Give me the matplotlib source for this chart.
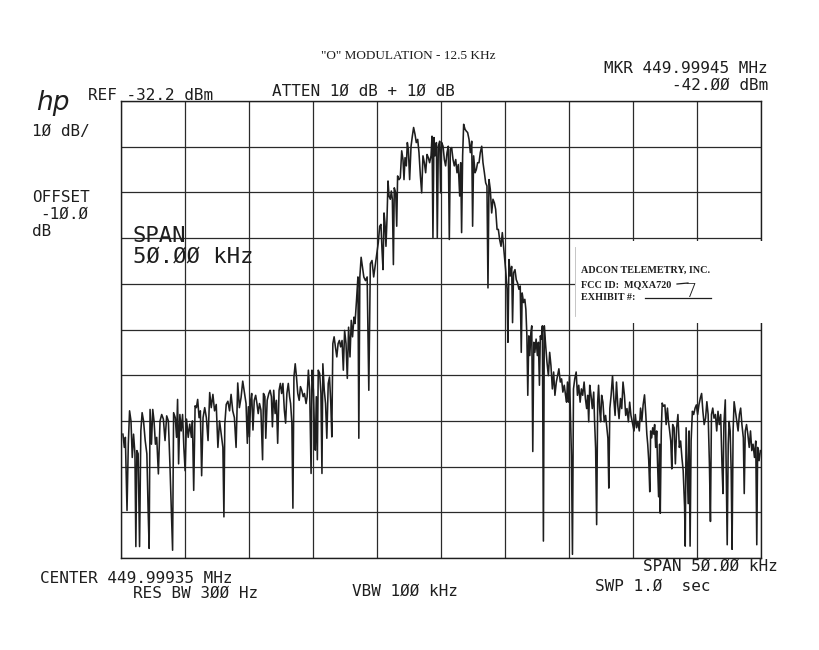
import numpy as np
import matplotlib
matplotlib.use("Agg")
import matplotlib.pyplot as plt
from matplotlib.patches import Rectangle
from matplotlib.lines import Line2D

# ---------------- data (frequency offset from centre in kHz, level in dBm) -------------
noise_left_khz = [-24.85,-24.74,-24.66,-24.53,-24.43,-24.33,-24.22,-24.12,-24.02,-23.91,
    -23.84,-23.76,-23.66,-23.55,-23.45,-23.35,-23.24,-23.11,-22.98,-22.88,
    -22.80,-22.73,-22.62,-22.52,-22.42,-22.31,-22.21,-22.08,-21.95,-21.82,
    -21.69,-21.56,-21.43,-21.30,-21.18,-21.10,-20.97,-20.89,-20.76,-20.66,
    -20.58,-20.50,-20.40,-20.30,-20.19,-20.09,-19.99,-19.88,-19.75,-19.63,
    -19.50,-19.42,-19.32,-19.21,-19.11,-19.01,-18.90,-18.80,-18.70,-18.59,
    -18.46,-18.33,-18.20,-18.07,-17.95,-17.82,-17.69,-17.56,-17.43,-17.30,
    -17.17,-17.04,-16.96,-16.89,-16.78,-16.65,-16.52,-16.40,-16.27,-16.14,
    -16.01,-15.88,-15.75,-15.62,-15.49]
noise_left_dbm = [-105.1,-108.0,-105.8,-121.8,-107.3,-100.0,-102.2,-110.2,-105.1,-109.4,
    -129.7,-108.7,-109.4,-129.7,-104.4,-100.4,-102.2,-106.5,-109.4,-121.8,
    -130.1,-99.7,-107.3,-99.7,-102.2,-107.3,-105.8,-113.8,-102.2,-100.8,
    -101.8,-106.5,-101.1,-102.2,-111.6,-118.9,-130.5,-100.4,-101.5,-105.8,
    -97.5,-111.6,-100.8,-104.4,-100.8,-108.0,-113.1,-101.8,-105.8,-102.9,
    -105.8,-102.2,-117.4,-98.9,-99.3,-97.5,-101.5,-100.0,-114.2,-101.5,
    -99.3,-101.5,-106.5,-96.0,-99.3,-96.4,-100.0,-98.6,-108.0,-102.2,
    -105.1,-108.0,-123.2,-102.9,-98.6,-97.9,-100.0,-96.4,-100.0,-101.5,
    -108.0,-93.9,-99.3,-97.1,-93.5]

skirt_left_khz = [-15.23,-15.13,-15.05,-14.97,-14.87,-14.79,-14.69,-14.59,-14.48,-14.38,
    -14.28,-14.18,-14.07,-13.94,-13.87,-13.76,-13.69,-13.58,-13.45,-13.35,
    -13.25,-13.17,-13.07,-12.96,-12.86,-12.76,-12.65,-12.55,-12.45,-12.35,
    -12.24,-12.14,-12.04,-11.93,-11.83,-11.75,-11.65,-11.57,-11.49,-11.39,
    -11.29,-11.19,-11.08,-10.98,-10.88,-10.77,-10.67,-10.54,-10.46,-10.36,
    -10.26,-10.15,-10.08,-9.97,-9.90,-9.82,-9.74,-9.66,-9.59,-9.48,
    -9.38,-9.30,-9.23,-9.12,-9.02,-8.92,-8.81,-8.71,-8.61,-8.53,
    -8.45,-8.35,-8.25,-8.14,-8.04,-7.94,-7.84,-7.73,-7.63,-7.53,
    -7.42,-7.32,-7.22,-7.11,-7.01,-6.91,-6.80,-6.72,-6.60,-6.49,
    -6.42,-6.34,-6.24,-6.03,-5.90,-5.77,-5.64,-5.52,-5.39,-5.26]
skirt_left_dbm = [-98.4,-107.1,-99.1,-105.7,-97.7,-96.2,-104.2,-97.7,-96.6,-98.4,
    -100.6,-98.4,-99.8,-110.7,-96.2,-96.9,-106.0,-97.7,-96.2,-95.5,
    -96.9,-103.5,-95.5,-100.6,-97.7,-107.1,-95.5,-94.0,-96.2,-94.0,
    -99.8,-102.7,-96.2,-94.0,-96.9,-98.4,-102.7,-121.3,-92.6,-89.7,
    -92.6,-96.2,-97.7,-94.7,-95.5,-96.9,-96.2,-98.4,-96.9,-91.1,
    -95.5,-113.7,-91.1,-95.5,-102.7,-108.6,-96.9,-110.7,-91.1,-91.8,
    -96.2,-113.7,-89.7,-95.5,-98.4,-106.0,-94.0,-92.6,-98.4,-105.7,
    -85.3,-83.8,-86.0,-88.2,-85.3,-84.6,-86.0,-84.6,-91.1,-82.4,
    -85.3,-92.9,-81.7,-88.2,-80.2,-83.8,-79.5,-80.9,-75.8,-70.7,
    -106.0,-70.7,-66.4,-70.7,-71.5,-70.7,-95.5,-67.8,-67.1,-70.7]

main_lobe_khz = [-4.90,-4.79,-4.69,-4.61,-4.53,-4.45,-4.38,-4.30,-4.22,-4.14,
    -4.06,-3.96,-3.88,-3.80,-3.72,-3.65,-3.54,-3.46,-3.39,-3.28,
    -3.18,-3.07,-2.97,-2.89,-2.81,-2.71,-2.63,-2.55,-2.45,-2.34,
    -2.24,-2.14,-2.03,-1.93,-1.82,-1.72,-1.61,-1.51,-1.41,-1.30,
    -1.20,-1.09,-0.99,-0.89,-0.78,-0.70,-0.63,-0.55,-0.47,-0.36,
    -0.29,-0.21,-0.10,-0.03,0.05,0.16,0.26,0.36,0.47,0.57,
    0.65,0.73,0.83,0.94,1.04,1.15,1.25,1.35,1.46,1.54,
    1.61,1.69,1.77,1.88,1.98,2.08,2.19,2.29,2.40,2.47,
    2.55,2.66,2.76,2.86,2.97,3.07,3.18,3.28,3.39,3.49,
    3.59,3.67,3.75,3.85,3.96,4.06,4.17,4.27,4.38,4.48,
    4.58,4.69,4.79]
main_lobe_dbm = [-63.2,-59.6,-59.2,-64.7,-69.1,-56.7,-58.8,-64.0,-58.1,-49.7,
    -53.0,-53.7,-51.9,-53.7,-68.0,-51.2,-52.3,-59.6,-48.6,-49.4,
    -49.0,-43.1,-45.0,-49.4,-44.6,-46.4,-41.3,-42.8,-49.4,-42.1,
    -39.9,-38.0,-39.5,-41.3,-40.6,-43.5,-48.6,-52.3,-44.2,-45.7,
    -47.9,-43.9,-44.6,-45.7,-44.2,-39.9,-62.1,-40.2,-44.2,-41.3,
    -62.1,-42.1,-41.0,-52.3,-41.3,-42.1,-45.0,-46.4,-43.5,-42.1,
    -62.5,-42.8,-42.4,-45.0,-46.4,-45.0,-47.9,-46.1,-53.0,-45.7,
    -61.0,-44.2,-37.3,-38.4,-38.8,-39.1,-40.6,-43.5,-41.0,-59.6,
    -44.2,-47.9,-47.2,-45.7,-45.7,-43.5,-42.1,-45.7,-47.9,-50.1,
    -50.8,-73.1,-49.4,-51.5,-56.7,-53.7,-54.5,-55.9,-60.3,-60.3,
    -62.5,-64.0,-61.0]

skirt_right_khz = [5.05,5.16,5.23,5.31,5.41,5.52,5.59,5.67,5.78,5.88,
    5.98,6.09,6.19,6.27,6.34,6.45,6.55,6.63,6.71,6.78,
    6.86,6.94,7.02,7.09,7.17,7.25,7.33,7.43,7.53,7.61,
    7.69,7.76,7.84,7.92,8.00,8.07,8.18,8.28,8.39,8.49,
    8.59,8.70,8.80,8.90,9.01,9.11,9.21,9.32,9.42,9.52,
    9.63,9.73,9.81,9.88,9.96,10.04,10.12,10.19,10.27,10.35,
    10.45,10.56,10.66,10.76,10.87,10.97,11.07,11.18,11.28,11.38,
    11.46,11.54,11.62,11.72,11.82,11.93,12.00,12.08,12.16,12.24,
    12.31,12.39,12.47,12.55,12.65,12.75,12.86,12.96,13.04,13.11,
    13.19,13.29,13.40,13.50,13.60,13.71,13.81,13.91,14.02,14.12,
    14.22,14.33,14.43,14.53,14.64,14.74,14.84]
skirt_right_dbm = [-69.1,-73.4,-85.0,-66.9,-70.5,-68.4,-80.7,-69.8,-69.1,-71.3,
    -72.0,-73.4,-72.7,-87.2,-74.2,-76.3,-75.6,-77.8,-83.6,-96.6,
    -83.6,-87.9,-82.9,-81.4,-108.9,-85.0,-87.2,-84.3,-87.9,-85.0,
    -94.4,-83.6,-84.3,-81.4,-128.5,-81.4,-85.8,-89.4,-92.3,-87.2,
    -90.1,-95.2,-91.5,-96.6,-93.7,-92.3,-90.8,-93.7,-93.0,-95.9,
    -94.4,-96.6,-98.1,-93.7,-98.1,-92.3,-101.7,-109.7,-131.4,-95.2,
    -93.0,-91.5,-96.6,-94.4,-98.1,-95.2,-96.6,-93.7,-97.3,-99.5,
    -96.6,-102.4,-94.4,-96.6,-99.5,-95.9,-102.4,-108.2,-124.9,-98.1,
    -94.4,-99.5,-102.4,-96.6,-98.1,-102.4,-101.0,-103.9,-106.0,-116.9,
    -99.5,-96.6,-92.3,-97.3,-101.0,-93.7,-98.8,-101.7,-97.3,-99.5,
    -93.7,-96.6,-101.0,-99.5,-102.4,-98.1,-101.0]

noise_right_khz = [15.08,15.18,15.28,15.38,15.49,15.59,15.69,15.79,15.90,16.00,
    16.08,16.15,16.23,16.31,16.38,16.46,16.54,16.62,16.69,16.77,
    16.85,16.92,17.00,17.08,17.13,17.21,17.28,17.38,17.49,17.59,
    17.69,17.77,17.85,17.95,18.03,18.10,18.21,18.31,18.41,18.51,
    18.62,18.72,18.82,18.92,19.03,19.08,19.15,19.23,19.31,19.38,
    19.46,19.54,19.64,19.74,19.85,19.95,20.05,20.15,20.26,20.36,
    20.46,20.56,20.67,20.77,20.87,20.97,21.05,21.13,21.23,21.33,
    21.44,21.54,21.64,21.74,21.85,21.95,22.03,22.10,22.21,22.28,
    22.36,22.44,22.51,22.59,22.67,22.74,22.82,22.90,23.00,23.10,
    23.21,23.31,23.41,23.51,23.62,23.69,23.77,23.87,23.97,24.08,
    24.18,24.28,24.38,24.49,24.59,24.67,24.74,24.85,24.95]
noise_right_dbm = [-104.4,-100.8,-103.7,-102.3,-104.4,-99.4,-102.3,-98.7,-96.5,-100.8,
    -105.1,-107.3,-110.9,-117.7,-104.4,-105.9,-103.7,-105.1,-103.0,-108.0,
    -104.4,-111.6,-118.8,-107.3,-122.4,-104.4,-98.3,-99.0,-98.7,-103.0,
    -99.4,-102.3,-104.1,-106.6,-112.7,-103.0,-103.7,-111.6,-103.7,-100.8,
    -108.0,-106.6,-110.2,-113.1,-121.0,-129.6,-103.7,-111.6,-120.3,-104.4,
    -129.6,-106.6,-100.1,-100.8,-99.4,-98.7,-100.8,-98.7,-97.2,-96.2,
    -100.1,-103.0,-101.6,-98.0,-100.8,-111.6,-124.2,-100.8,-99.4,-101.6,
    -100.8,-104.4,-100.1,-103.0,-100.8,-111.6,-118.1,-103.0,-97.6,-111.6,
    -129.3,-107.3,-102.3,-104.4,-113.1,-130.3,-104.4,-98.0,-100.1,-102.3,
    -104.4,-100.8,-99.4,-103.0,-105.9,-118.1,-104.4,-103.0,-105.1,-108.0,
    -104.4,-108.7,-107.3,-110.2,-106.6,-129.3,-108.0,-110.9,-108.7]

ref_level_dbm = -32.2
db_per_div = 10
span_khz = 50.0

segments = [(noise_left_khz, noise_left_dbm), (skirt_left_khz, skirt_left_dbm),
            (main_lobe_khz, main_lobe_dbm), (skirt_right_khz, skirt_right_dbm),
            (noise_right_khz, noise_right_dbm)]
freq = []
level = []
for f, l in segments:
    n = min(len(f), len(l))
    freq += f[:n]
    level += l[:n]

# ---------------- figure ----------------
W, H = 819, 650
fig = plt.figure(figsize=(W / 100, H / 100), dpi=100)
fig.patch.set_facecolor("white")

def P(x, y):
    return x / W, 1 - y / H

ax = fig.add_axes([121 / W, 1 - 558 / H, 640 / W, 457 / H])
ax.plot(freq, level, color="#1e1e1e", lw=1.15, zorder=3)
ax.set_xlim(-span_khz / 2, span_khz / 2)
ax.set_ylim(ref_level_dbm - 10 * db_per_div, ref_level_dbm)
ax.set_xticks(np.arange(-25, 25.01, 5))
ax.set_yticks(np.arange(ref_level_dbm - 10 * db_per_div, ref_level_dbm + 0.01, db_per_div))
ax.tick_params(length=0, labelbottom=False, labelleft=False)
ax.grid(True, color="#2a2a2a", lw=0.9)
for s in ax.spines.values():
    s.set_color("#1e1e1e")
    s.set_linewidth(1.0)

# pasted label covering part of the graticule
ax.add_patch(Rectangle((0.709, 0.515), 0.32, 0.178, transform=ax.transAxes,
                       fc="white", ec="none", zorder=5, clip_on=False))
ax.add_line(Line2D([0.709, 0.709], [0.53, 0.68], transform=ax.transAxes,
                   color="#bbbbbb", lw=0.6, zorder=6, clip_on=False))

mono = "DejaVu Sans Mono"
tc = "#1e1e1e"
fs = 11.5

def t(x, y, s, size=fs, ha="left", family=mono, **kw):
    fig.text(*P(x, y), s, fontsize=size, ha=ha, va="baseline", family=family,
             color=tc, **kw)

t(408, 59, '"O" MODULATION - 12.5 KHz', size=9.5, ha="center", family="Liberation Serif")
t(768, 73, "MKR 449.99945 MHz", ha="right")
t(768, 90, "-42.ØØ dBm", ha="right")
t(36, 110, "hp", size=19, family="DejaVu Sans", style="italic", weight="light")
t(88, 100, "REF -32.2 dBm")
t(272, 96, "ATTEN 1Ø dB + 1Ø dB")
t(32, 136, "1Ø dB/")
t(32, 202, "OFFSET")
t(40, 219, "-1Ø.Ø")
t(32, 236, "dB")
t(133, 242, "SPAN", size=16)
t(133, 263, "5Ø.ØØ kHz", size=16)
t(40, 583, "CENTER 449.99935 MHz")
t(133, 598, "RES BW 3ØØ Hz")
t(352, 596, "VBW 1ØØ kHz")
t(778, 571, "SPAN 5Ø.ØØ kHz", ha="right")
t(595, 591, "SWP 1.Ø  sec")

# label contents
serif = "Liberation Serif"
t(581, 273, "ADCON TELEMETRY, INC.", size=7.3, family=serif, weight="bold")
t(581, 287, "FCC ID:  MQXA720", size=7.3, family=serif, weight="bold")
t(581, 300, "EXHIBIT #:", size=7.3, family=serif, weight="bold")
t(684, 297, "7", size=14, family="DejaVu Sans", weight="light")
fig.add_artist(Line2D([645 / W, 711 / W], [1 - 298 / H, 1 - 298 / H], color=tc, lw=0.9))
fig.add_artist(Line2D([677 / W, 688 / W], [1 - 284 / H, 1 - 283 / H], color=tc, lw=0.9))

fig.savefig("out.png", dpi=100, facecolor="white")
